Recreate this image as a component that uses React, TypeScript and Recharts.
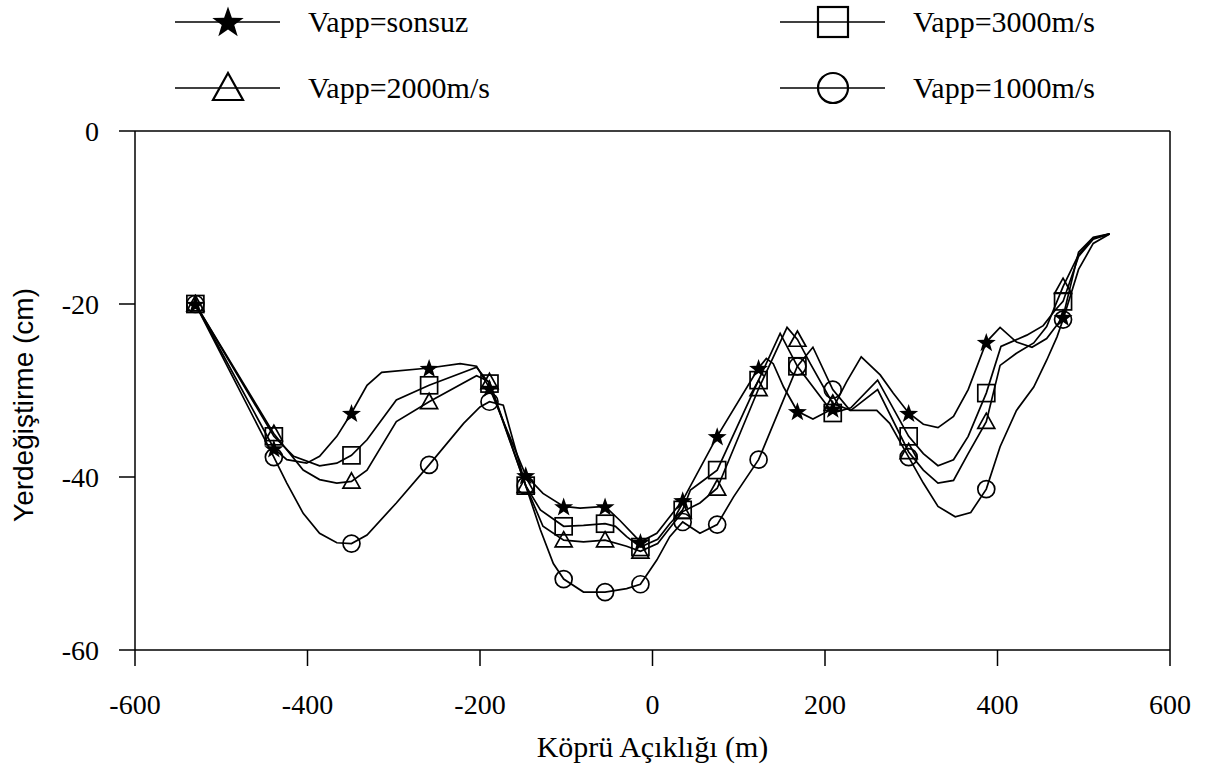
import React from "react";
import { LineChart, Line, XAxis, YAxis, ReferenceLine } from "recharts";

// x positions (m) where the series carry a symbol
const markerX = [-530, -439, -349, -259, -189, -147, -103, -55, -14, 35, 75, 123, 168, 209, 297, 387, 476];

const xTicks = [-600, -400, -200, 0, 200, 400, 600];
const yTicks = [-60, -40, -20, 0];

// Vapp = sonsuz
const sonsuz: [number, number][] = [
  [-530, -20], [-439, -36.7], [-424, -38.0], [-401, -38.4], [-386, -37.6], [-366, -35.3],
  [-349, -32.6], [-331, -29.4], [-314, -27.9], [-259, -27.4], [-223, -26.9], [-204, -27.2],
  [-189, -29.7], [-147, -39.8], [-127, -41.9], [-103, -43.4], [-84, -43.6], [-55, -43.4],
  [-38, -45.0], [-14, -47.5], [5, -46.5], [20, -44.6], [35, -42.7], [75, -35.3],
  [123, -27.4], [132, -26.3], [140, -26.9], [152, -29.6], [168, -32.4], [186, -33.3],
  [209, -32.1], [225, -29.0], [242, -26.1], [264, -28.2], [279, -30.3], [297, -32.6],
  [314, -33.9], [331, -34.3], [349, -33.0], [366, -29.9], [387, -24.4], [403, -22.7],
  [422, -24.4], [440, -25.0], [457, -24.0], [476, -21.5], [494, -14.0], [511, -12.3], [530, -11.9],
];

// Vapp = 3000 m/s
const v3000: [number, number][] = [
  [-530, -20], [-439, -35.3], [-416, -37.6], [-386, -38.7], [-366, -38.4], [-349, -37.5],
  [-331, -35.7], [-297, -31.1], [-259, -29.4], [-204, -27.3], [-189, -29.2], [-147, -41.0],
  [-130, -43.8], [-103, -45.7], [-80, -45.6], [-55, -45.4], [-43, -45.7], [-30, -46.9],
  [-14, -48.1], [6, -47.2], [20, -45.4], [35, -43.8], [44, -41.5], [55, -40.7], [75, -39.2],
  [123, -28.8], [148, -23.4], [168, -27.2], [209, -32.6], [230, -32.0], [261, -28.8],
  [297, -35.3], [314, -37.3], [331, -38.7], [349, -38.0], [366, -35.3], [387, -30.3],
  [404, -24.9], [434, -23.6], [453, -22.5], [467, -20.7], [476, -19.7], [494, -14.5],
  [511, -12.5], [530, -11.9],
];

// Vapp = 2000 m/s
const v2000: [number, number][] = [
  [-530, -20], [-439, -35.0], [-405, -39.2], [-386, -40.3], [-366, -40.7], [-349, -40.5],
  [-331, -39.2], [-297, -33.6], [-259, -31.3], [-204, -28.3], [-189, -29.0], [-147, -41.0],
  [-127, -45.7], [-103, -47.3], [-80, -47.5], [-55, -47.3], [-30, -48.0], [-14, -48.6],
  [6, -47.7], [20, -45.9], [35, -44.0], [55, -43.0], [75, -41.3], [123, -29.8],
  [156, -22.7], [168, -24.1], [183, -26.9], [209, -31.5], [230, -32.3], [261, -29.9],
  [297, -37.1], [314, -39.2], [331, -40.7], [349, -40.4], [366, -37.3], [387, -33.6],
  [403, -27.1], [422, -25.7], [442, -24.5], [457, -22.6], [476, -18.0], [494, -14.3],
  [511, -12.4], [530, -11.9],
];

// Vapp = 1000 m/s
const v1000: [number, number][] = [
  [-530, -20], [-439, -37.7], [-424, -40.7], [-405, -44.2], [-386, -46.5], [-366, -47.6],
  [-349, -47.7], [-331, -46.7], [-297, -43.0], [-259, -38.6], [-219, -33.8], [-200, -31.9],
  [-189, -31.3], [-173, -31.7], [-147, -41.0], [-130, -46.1], [-115, -50.0], [-103, -51.8],
  [-80, -53.3], [-55, -53.3], [-30, -52.9], [-14, -52.4], [5, -49.6], [20, -46.9],
  [35, -45.2], [55, -46.5], [75, -45.5], [94, -42.3], [123, -38.0], [168, -27.2],
  [186, -25.0], [209, -29.9], [229, -32.3], [260, -32.3], [275, -33.8], [297, -37.7],
  [314, -40.7], [331, -43.4], [351, -44.6], [369, -44.1], [387, -41.4], [403, -36.5],
  [422, -32.3], [442, -29.6], [457, -26.5], [469, -23.8], [476, -21.8], [494, -16.0],
  [511, -13.0], [530, -11.9],
];

const SERIF = "'Liberation Serif', 'Times New Roman', serif";
const SANS = "'Liberation Sans', Arial, sans-serif";

type Shape = "star" | "square" | "triangle" | "circle";

const starPoints = (cx: number, cy: number, r: number) => {
  const pts: string[] = [];
  for (let i = 0; i < 10; i++) {
    const rad = i % 2 === 0 ? r : r * 0.4;
    const a = -Math.PI / 2 + (i * Math.PI) / 5;
    pts.push(`${cx + rad * Math.cos(a)},${cy + rad * Math.sin(a)}`);
  }
  return pts.join(" ");
};

const Marker = ({ shape, cx, cy, size }: { shape: Shape; cx: number; cy: number; size: number }) => {
  const h = size / 2;
  const sw = size > 20 ? 2.2 : 1.7;
  if (shape === "star") return <polygon points={starPoints(cx, cy + 1, h + 1.5)} fill="#000" stroke="none" />;
  if (shape === "square")
    return <rect x={cx - h} y={cy - h} width={size} height={size} fill="none" stroke="#000" strokeWidth={sw} />;
  if (shape === "triangle")
    return (
      <polygon
        points={`${cx},${cy - h} ${cx + h},${cy + h * 0.8} ${cx - h},${cy + h * 0.8}`}
        fill="none"
        stroke="#000"
        strokeWidth={sw}
      />
    );
  return <circle cx={cx} cy={cy} r={h} fill="none" stroke="#000" strokeWidth={sw} />;
};

const markerDot = (shape: Shape) => (props: any) => {
  const { cx, cy, payload, index } = props;
  if (!markerX.includes(payload.x)) return <g key={`n-${index}`} />;
  return (
    <g key={`m-${index}`}>
      <Marker shape={shape} cx={cx} cy={cy} size={17} />
    </g>
  );
};

const rows = (pts: [number, number][]) => pts.map(([x, y]) => ({ x, y }));

const series: { name: string; shape: Shape; pts: [number, number][] }[] = [
  { name: "Vapp=sonsuz", shape: "star", pts: sonsuz },
  { name: "Vapp=3000m/s", shape: "square", pts: v3000 },
  { name: "Vapp=2000m/s", shape: "triangle", pts: v2000 },
  { name: "Vapp=1000m/s", shape: "circle", pts: v1000 },
];

const legendSlots = [
  { x: 228, y: 22 },
  { x: 833, y: 22 },
  { x: 228, y: 88 },
  { x: 833, y: 88 },
];

const ChartLegend = () => (
  <svg width={1206} height={120} style={{ position: "absolute", left: 0, top: 0 }}>
    {series.map((s, i) => {
      const p = legendSlots[i];
      return (
        <g key={s.name}>
          <line x1={p.x - 53} x2={p.x + 52} y1={p.y} y2={p.y} stroke="#000" strokeWidth={1.5} />
          <Marker shape={s.shape} cx={p.x} cy={p.y} size={30} />
          <text x={p.x + 80} y={p.y + 10} fontFamily={SERIF} fontSize={30} fill="#000">
            {s.name}
          </text>
        </g>
      );
    })}
  </svg>
);

export default function App() {
  return (
    <div style={{ position: "absolute", left: 0, top: 0, width: 1206, height: 772, background: "#fff" }}>
      <LineChart width={1206} height={772} margin={{ top: 131, right: 36, bottom: 0, left: 0 }}>
        <XAxis
          type="number"
          dataKey="x"
          domain={[-600, 600]}
          ticks={xTicks}
          allowDataOverflow
          height={122}
          tickSize={16}
          tickMargin={28}
          stroke="#000"
          strokeWidth={1.5}
          tick={{ fill: "#000", fontSize: 28, fontFamily: SERIF }}
          label={{
            content: ({ viewBox }: any) => (
              <text
                x={viewBox.x + viewBox.width / 2}
                y={757}
                textAnchor="middle"
                fontFamily={SERIF}
                fontSize={30}
                fill="#000"
              >
                Köprü Açıklığı (m)
              </text>
            ),
          }}
        />
        <YAxis
          type="number"
          dataKey="y"
          domain={[-60, 0]}
          ticks={yTicks}
          allowDataOverflow
          width={135}
          tickSize={16}
          tickMargin={20}
          stroke="#000"
          strokeWidth={1.5}
          tick={{ fill: "#000", fontSize: 28, fontFamily: SERIF }}
          label={{
            content: () => (
              <text
                x={23}
                y={405}
                transform="rotate(-90 23 405)"
                textAnchor="middle"
                dominantBaseline="central"
                fontFamily={SANS}
                fontSize={28}
                fill="#000"
              >
                Yerdeğiştirme (cm)
              </text>
            ),
          }}
        />
        <ReferenceLine y={0} stroke="#000" strokeWidth={1.5} />
        <ReferenceLine x={600} stroke="#000" strokeWidth={1.5} />
        {series.map((s) => (
          <Line
            key={s.name}
            data={rows(s.pts)}
            dataKey="y"
            name={s.name}
            type="linear"
            stroke="#000"
            strokeWidth={1.7}
            dot={markerDot(s.shape)}
            activeDot={false}
            isAnimationActive={false}
          />
        ))}
      </LineChart>
      <ChartLegend />
    </div>
  );
}
